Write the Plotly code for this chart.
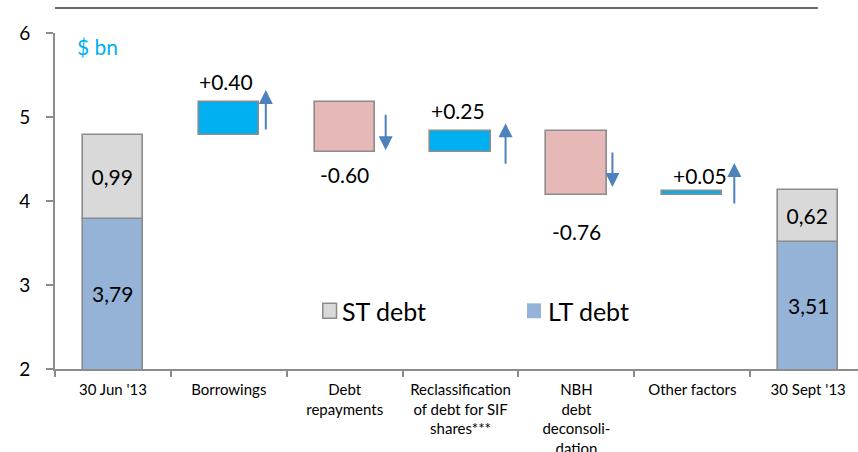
import plotly.graph_objects as go

# ---- data -------------------------------------------------------------
categories = [
    "30 Jun '13",
    "Borrowings",
    "Debt<br>repayments",
    "Reclassification<br>of debt for SIF<br>shares***",
    "NBH<br>debt<br>deconsoli-<br>dation",
    "Other factors",
    "30 Sept '13",
]
start_lt = 3.79
start_st = 0.99
changes = [0.40, -0.60, 0.25, -0.76, 0.05]
end_lt = 3.51
end_st = 0.62
y_ticks = [2, 3, 4, 5, 6]

# ---- styling ----------------------------------------------------------
FONT = "Lato"
C_ST = "#D9D9D9"
C_LT = "#95B3D7"
C_UP = "#00B0F0"
C_DOWN = "#E6B9B8"
C_EDGE = "#8C8C8C"
C_ARROW = "#4F81BD"
C_AXIS = "#8C8C8C"
BAR_W = 0.52
Y_FLOOR = y_ticks[0]

# running totals for the floating bars
step_cats = categories[1:-1]
bases, tops = [], []
level = start_lt + start_st
for d in changes:
    bases.append(level)
    level += d
    tops.append(level)

up_idx = [i for i, d in enumerate(changes) if d > 0]
dn_idx = [i for i, d in enumerate(changes) if d < 0]

def comma(v):
    return f"{v:.2f}".replace(".", ",")

fig = go.Figure()

edge = dict(color=C_EDGE, width=1.6)

# long-term debt (drawn from zero, clipped at the axis floor)
fig.add_trace(go.Bar(
    x=[categories[0], categories[-1]], y=[start_lt, end_lt], base=[0, 0],
    width=BAR_W, marker=dict(color=C_LT, line=edge), showlegend=False,
    hoverinfo="skip",
))
# short-term debt stacked on top
fig.add_trace(go.Bar(
    x=[categories[0], categories[-1]], y=[start_st, end_st],
    base=[start_lt, end_lt], width=BAR_W,
    marker=dict(color=C_ST, line=edge), showlegend=False,
    text=[comma(start_st), comma(end_st)], textposition="inside",
    insidetextanchor="middle", textangle=0, constraintext="none",
    textfont=dict(family=FONT, size=21, color="black"), hoverinfo="skip",
))
# increases
fig.add_trace(go.Bar(
    x=[step_cats[i] for i in up_idx], y=[changes[i] for i in up_idx],
    base=[bases[i] for i in up_idx], width=BAR_W,
    marker=dict(color=C_UP, line=edge), showlegend=False, hoverinfo="skip",
))
# decreases
fig.add_trace(go.Bar(
    x=[step_cats[i] for i in dn_idx], y=[-changes[i] for i in dn_idx],
    base=[tops[i] for i in dn_idx], width=BAR_W,
    marker=dict(color=C_DOWN, line=edge), showlegend=False, hoverinfo="skip",
))

annotations = []

# long-term debt values, centred in the visible part of each bar
for cat, v in [(categories[0], start_lt), (categories[-1], end_lt)]:
    annotations.append(dict(
        x=cat, y=(Y_FLOOR + v) / 2, xref="x", yref="y", text=comma(v),
        showarrow=False, font=dict(family=FONT, size=21, color="black"),
    ))

# change labels above/below each floating bar
label_gap = [20, 22, 21, 36, 15]
label_dx = [-3, 0, -3, 0, 8]
for i, d in enumerate(changes):
    up = d > 0
    annotations.append(dict(
        x=step_cats[i], y=max(bases[i], tops[i]) if up else min(bases[i], tops[i]),
        xref="x", yref="y", text=f"{d:+.2f}", showarrow=False,
        yshift=label_gap[i] if up else -label_gap[i], xshift=label_dx[i],
        font=dict(family=FONT, size=21, color="black"),
    ))

# direction arrows beside each floating bar
arrow_dx = [37, 41, 45, 36, 42]
arrow_tip = [12, 2, 8, 8, 28]
arrow_len = [41, 37, 42, 36, 42]
for i, d in enumerate(changes):
    up = d > 0
    y_edge = max(bases[i], tops[i]) if up else min(bases[i], tops[i])
    annotations.append(dict(
        x=step_cats[i], y=y_edge, xref="x", yref="y", text="",
        showarrow=True, axref="pixel", ayref="pixel", ax=0,
        ay=arrow_len[i] if up else -arrow_len[i],
        xshift=arrow_dx[i], yshift=arrow_tip[i],
        arrowhead=2, arrowsize=1.4, arrowwidth=2, arrowcolor=C_ARROW,
        standoff=0, startstandoff=0,
    ))

# unit caption
annotations.append(dict(
    x=0.0535, y=0.961, xref="paper", yref="paper", text="$ bn",
    xanchor="center", yanchor="middle",
    showarrow=False, font=dict(family=FONT, size=21, color="#00B0F0"),
))

# legend entries
annotations += [
    dict(x=0.3545, y=0.173, xref="paper", yref="paper", text="ST debt",
         xanchor="left", yanchor="middle", showarrow=False,
         font=dict(family=FONT, size=25, color="black")),
    dict(x=0.611, y=0.173, xref="paper", yref="paper", text="LT debt",
         xanchor="left", yanchor="middle", showarrow=False,
         font=dict(family=FONT, size=25, color="black")),
]

shapes = [
    dict(type="rect", xref="paper", yref="paper", x0=0.3335, x1=0.3506,
         y0=0.151, y1=0.1955, fillcolor=C_ST, line=dict(color=C_EDGE, width=1.5)),
    dict(type="rect", xref="paper", yref="paper", x0=0.5878, x1=0.6052,
         y0=0.151, y1=0.1955, fillcolor=C_LT, line=dict(width=0)),
    # header rule
    dict(type="line", xref="paper", yref="paper", x0=0, x1=0.950,
         y0=1.0744, y1=1.0744, line=dict(color="#6A6A6A", width=2)),
]

fig.update_layout(
    width=858, height=452,
    margin=dict(l=55, r=0, t=33, b=83),
    paper_bgcolor="white", plot_bgcolor="white",
    barmode="overlay", bargap=0,
    font=dict(family=FONT, color="black"),
    annotations=annotations, shapes=shapes,
    xaxis=dict(
        type="category", categoryorder="array", categoryarray=categories,
        range=[-0.5, 6.43], tickson="boundaries", ticks="outside",
        ticklen=6, tickwidth=1.5, tickcolor=C_AXIS,
        showline=True, linecolor=C_AXIS, linewidth=2, automargin=False,
        showgrid=False, zeroline=False, ticklabelstandoff=6,
        tickfont=dict(family=FONT, size=15, color="black"),
    ),
    yaxis=dict(
        range=[Y_FLOOR, y_ticks[-1]], tickvals=y_ticks,
        ticks="outside", ticklen=7, tickwidth=1.5, tickcolor=C_AXIS,
        showline=True, linecolor=C_AXIS, linewidth=2, automargin=False,
        showgrid=False, zeroline=False, ticklabelstandoff=12,
        tickfont=dict(family=FONT, size=19, color="black"),
    ),
)

fig.write_html("out.html")
